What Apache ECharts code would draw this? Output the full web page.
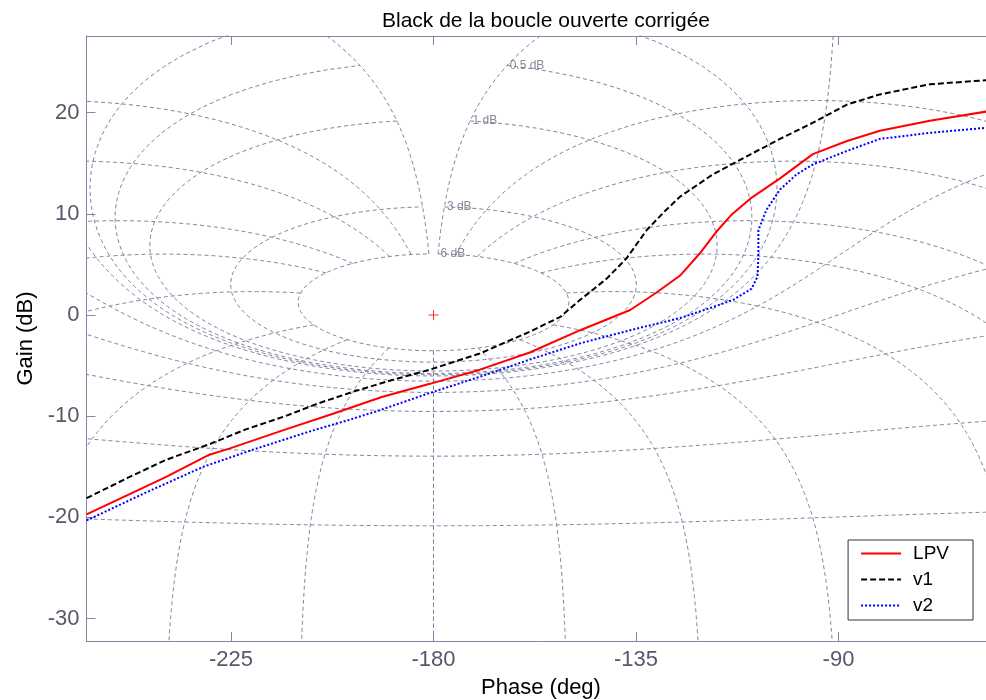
<!DOCTYPE html>
<html><head><meta charset="utf-8">
<script src="https://cdn.jsdelivr.net/npm/echarts@6/dist/echarts.min.js"></script>
<style>html,body{margin:0;padding:0;background:#fff}#c{width:986px;height:700px}</style>
</head><body><div id="c"></div>
<script>
// ---- data ----
const phaseLPV = [-257.1,-248,-239.4,-229.8,-225.4,-213.5,-202,-191.5,-180.8,-169.7,-158.6,-147.4,-136.3,-130.5,-125.2,-120.8,-117.2,-113.8,-109.6,-103.0,-95.7,-88.1,-80.8,-69.7,-57.2];
const gainLPV  = [-19.7,-17.8,-16.0,-13.8,-13.2,-11.4,-9.7,-8.1,-6.8,-5.4,-3.7,-1.5,0.5,2.2,3.9,6.1,8.2,9.9,11.5,13.5,15.9,17.2,18.2,19.2,20.1];
const phaseV1 = [-257.1,-248,-239.4,-230,-221.7,-213,-205.4,-198,-190.6,-180.8,-169.7,-158.6,-151.9,-147.4,-141.5,-137.1,-132.6,-128.5,-125.2,-117.9,-110.3,-103.0,-95.7,-88.1,-80.8,-69.7,-57.2];
const gainV1  = [-18.1,-16.1,-14.3,-12.8,-11.3,-10.0,-8.7,-7.6,-6.6,-5.4,-3.8,-1.65,-0.2,1.5,3.6,5.6,8.4,10.3,11.7,13.9,15.7,17.4,19.0,20.8,21.8,22.8,23.2];
const phaseV2 = [-257.1,-244.2,-231.2,-220.1,-206.8,-199,-191.9,-180.8,-169.7,-158.6,-147.4,-136.3,-125.2,-117.8,-113.4,-109.3,-108.0,-107.8,-107.8,-106.0,-103.0,-99.3,-95.6,-88.2,-80.8,-69.7,-57.2];
const gainV2  = [-20.3,-17.6,-15.0,-13.3,-11.4,-10.4,-9.4,-7.7,-6.1,-4.4,-2.8,-1.5,-0.3,0.8,1.5,2.6,3.8,5.8,8.4,10.4,12.4,13.9,14.9,16.2,17.4,18.0,18.5];
const seriesNames = ['LPV','v1','v2'];
const xTicks = [-225,-180,-135,-90];
const yTicks = [-30,-20,-10,0,10,20];
// Nichols grid levels (closed-loop gain in dB, closed-loop phase in deg)
const ngridGainsDb = [6,3,1,0.5,0.25,0,-1,-3,-6,-12,-20,-40];
const ngridPhasesDeg = [1,5,10,20,30,50,90,120,150,180];
const labelledGainsDb = [6,3,1,0.5];
const critPhase = [-180], critGain = [0];

// ---- Nichols grid geometry (open loop G = T/(1-T)) ----
function openLoop(gdb, pdeg){
  const m = Math.pow(10, gdb/20), p = pdeg*Math.PI/180;
  const zr = m*Math.cos(p), zi = m*Math.sin(p);
  const dr = 1-zr, di = -zi, den = dr*dr+di*di;
  const hr = (zr*dr+zi*di)/den, hi = (zi*dr-zr*di)/den;
  let ang = Math.atan2(hi,hr)*180/Math.PI; ang = ((ang%360)+360)%360;
  return {g: 20*Math.log10(Math.hypot(hr,hi)), a: ang};
}
const pFine = []; for (let p = 1; p <= 180.0001; p += 0.5) pFine.push(p);
const gMax = ngridGainsDb[0], gMin = ngridGainsDb[ngridGainsDb.length-1];
const gFine = []; for (let g = gMax; g >= gMin - 1e-9; g -= 0.02) gFine.push(+g.toFixed(3));
const gridLines = [];
ngridGainsDb.forEach(gd => {
  const pts = [];
  pFine.forEach(pd => { const o = openLoop(gd,pd); pts.push([-o.a, o.g]); });
  pFine.slice().reverse().forEach(pd => { const o = openLoop(gd,pd); pts.push([o.a-360, o.g]); });
  gridLines.push(pts);
});
ngridPhasesDeg.forEach(pd => {
  const r = [], l = [];
  gFine.forEach(gd => { const o = openLoop(gd,pd); r.push([-o.a, o.g]); l.push([o.a-360, o.g]); });
  gridLines.push(r); gridLines.push(l);
});
const labelPts = labelledGainsDb.map(gd => { const o = openLoop(gd,1); return {value:[-o.a, o.g], name: gd + ' dB'}; });

const FONT = 'Liberation Sans, Arial, sans-serif';
const AX = '#8484a4';
const TITLE = 'Black de la boucle ouverte corrigée';
const titleSize = 21;
const cv = document.createElement('canvas').getContext('2d');
cv.font = titleSize + 'px ' + FONT;
const titleW = cv.measureText(TITLE).width;

const series = [];
gridLines.forEach(pts => series.push({
  type:'line', data:pts, symbol:'none', silent:true, z:1, animation:false,
  lineStyle:{color:'#8080a0', width:1, type:[4,3]}
}));
series.push({type:'scatter', data: labelPts, symbolSize:1, silent:true, z:3,
  itemStyle:{color:'rgba(0,0,0,0)'},
  label:{show:true, position:'right', distance:2, formatter:p=>p.name, fontSize:12, color:'#6a6a7c', fontFamily:FONT}});
series.push({type:'scatter', data: critPhase.map((p,i)=>[p,critGain[i]]), symbol:'path://M0,5L10,5M5,0L5,10', symbolSize:10, silent:true, z:4,
  itemStyle:{color:'none', borderColor:'#ff0000', borderWidth:1}});
const zip = (a,b)=>a.map((v,i)=>[v,b[i]]);
series.push({name:seriesNames[0], type:'line', data:zip(phaseLPV,gainLPV), symbol:'none', z:5, lineStyle:{color:'#ff0000', width:2}, itemStyle:{color:'#ff0000'}});
series.push({name:seriesNames[1], type:'line', data:zip(phaseV1,gainV1), symbol:'none', z:5, lineStyle:{color:'#000000', width:2, type:[6,3]}, itemStyle:{color:'#000000'}});
series.push({name:seriesNames[2], type:'line', data:zip(phaseV2,gainV2), symbol:'none', z:5, lineStyle:{color:'#0000ff', width:2, type:[2,2]}, itemStyle:{color:'#0000ff'}});

const X_MIN = -257.11, X_MAX = -55.11;
const chart = echarts.init(document.getElementById('c'), null, {renderer:'canvas'});
chart.setOption({
  animation:false,
  backgroundColor:'#ffffff',
  title:{text:TITLE, left:Math.round(541 - titleW/2), top:6,
    textStyle:{fontSize:titleSize, fontWeight:'normal', color:'#000', fontFamily:FONT}},
  grid:{left:86.5, right:-9.5, top:36, bottom:59, containLabel:false, outerBoundsMode:'none'},
  legend:{data:seriesNames, orient:'vertical', right:13, top:540, itemWidth:40, itemHeight:14, itemGap:5,
    padding:[3,24,4,12], backgroundColor:'#fff', borderColor:'#333', borderWidth:1, selectedMode:false,
    itemStyle:{opacity:0},
    textStyle:{fontSize:19, color:'#000', fontFamily:FONT, lineHeight:21, padding:[0,0,0,7]}},
  xAxis:[{type:'value', min:X_MIN, max:X_MAX, position:'bottom',
    name:'Phase (deg)', nameLocation:'middle', nameGap:36,
    nameTextStyle:{fontSize:22, color:'#000', fontFamily:FONT, lineHeight:22},
    axisLine:{onZero:false, lineStyle:{color:AX, width:1}},
    axisTick:{inside:true, length:9, customValues:xTicks, lineStyle:{color:AX}},
    axisLabel:{customValues:xTicks, fontSize:22, lineHeight:22, color:'#585868', margin:8, fontFamily:FONT},
    splitLine:{show:false}},
   {type:'value', min:X_MIN, max:X_MAX, position:'top',
    axisLine:{onZero:false, lineStyle:{color:AX, width:1}},
    axisTick:{inside:true, length:9, customValues:xTicks, lineStyle:{color:AX}},
    axisLabel:{show:false}, splitLine:{show:false}}],
  yAxis:{type:'value', min:-32.21, max:27.57,
    name:'Gain (dB)', nameLocation:'middle', nameGap:48,
    nameTextStyle:{fontSize:22, color:'#000', fontFamily:FONT, lineHeight:22},
    axisLine:{onZero:false, lineStyle:{color:AX, width:1}},
    axisTick:{inside:true, length:9, customValues:yTicks, lineStyle:{color:AX}},
    axisLabel:{customValues:yTicks, fontSize:22, lineHeight:22, color:'#585868', margin:7, fontFamily:FONT},
    splitLine:{show:false}},
  series:series
});
</script></body></html>
